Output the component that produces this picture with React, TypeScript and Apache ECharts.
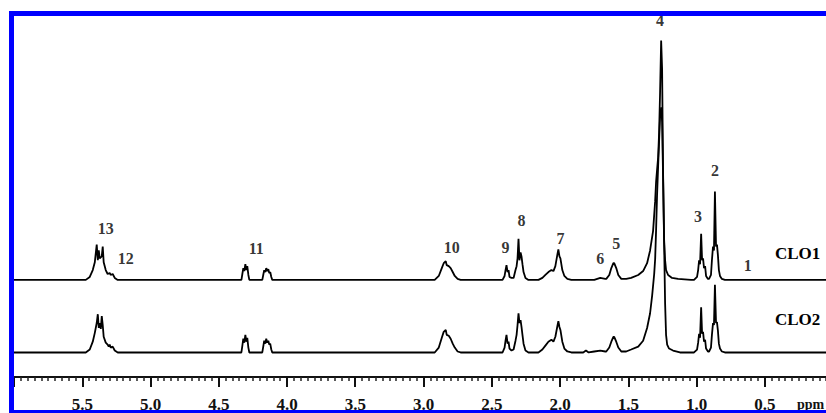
import React, { useEffect, useRef } from "react";
import * as echarts from "echarts";

// chemical shift (ppm) / intensity pairs
const clo1Points: number[][] = [
  [6.0, 0], [5.474, 0], [5.445, 3], [5.423, 10], [5.408, 18], [5.394, 36], [5.386, 20], [5.379, 30], [5.372, 22],
  [5.357, 24], [5.35, 34], [5.343, 18], [5.328, 10], [5.314, 6], [5.299, 7], [5.292, 5], [5.277, 6], [5.262, 2], [5.24, 0],
  [4.334, 0], [4.327, 6], [4.32, 12], [4.313, 9], [4.305, 16], [4.298, 10], [4.291, 14], [4.283, 5], [4.276, 0],
  [4.181, 0], [4.174, 5], [4.167, 10], [4.159, 8], [4.152, 12], [4.145, 9], [4.137, 11], [4.13, 7], [4.123, 8], [4.115, 3], [4.108, 0],
  [2.918, 0], [2.888, 4], [2.866, 12], [2.852, 17], [2.837, 19], [2.83, 15], [2.815, 14], [2.801, 12], [2.786, 8], [2.771, 4], [2.75, 1], [2.728, 0],
  [2.421, 0], [2.406, 4], [2.399, 10], [2.392, 15], [2.384, 8], [2.377, 10], [2.37, 3], [2.355, 2], [2.34, 2],
  [2.326, 10], [2.318, 14], [2.311, 22], [2.304, 42], [2.297, 20], [2.289, 28], [2.282, 24], [2.275, 16], [2.267, 8], [2.253, 2], [2.231, 0],
  [2.158, 0], [2.129, 2], [2.107, 5], [2.085, 8], [2.063, 10], [2.048, 9], [2.034, 14], [2.019, 26], [2.012, 31], [2.004, 24],
  [1.997, 22], [1.983, 10], [1.968, 4], [1.946, 1], [1.917, 0],
  [1.749, 0], [1.705, 2], [1.668, 1], [1.661, 1], [1.639, 5], [1.624, 12], [1.609, 17], [1.603, 17], [1.588, 12], [1.573, 5], [1.551, 1],
  [1.515, 1], [1.479, 2], [1.427, 5], [1.391, 9], [1.362, 17], [1.34, 30], [1.318, 50], [1.303, 80], [1.296, 100], [1.289, 112],
  [1.281, 125], [1.274, 150], [1.267, 190], [1.259, 244], [1.252, 215], [1.245, 110], [1.237, 40], [1.23, 20], [1.223, 10],
  [1.208, 5], [1.179, 2], [1.135, 1], [1.04, 0],
  [1.018, 0], [0.996, 3], [0.988, 10], [0.981, 20], [0.974, 16], [0.966, 47], [0.959, 20], [0.952, 22], [0.945, 12], [0.937, 14],
  [0.93, 4], [0.916, 1], [0.908, 1],
  [0.894, 5], [0.887, 20], [0.879, 34], [0.872, 30], [0.865, 90], [0.857, 34], [0.85, 36], [0.843, 25], [0.836, 10], [0.828, 4],
  [0.814, 1], [0.792, 0], [0, 0],
];

const clo2Points: number[][] = [
  [6.0, 0], [5.474, 0], [5.445, 3], [5.423, 11], [5.408, 20], [5.394, 30], [5.386, 39], [5.379, 25], [5.372, 30], [5.364, 24],
  [5.357, 37], [5.35, 28], [5.343, 16], [5.328, 10], [5.314, 8], [5.306, 6], [5.299, 8], [5.292, 5], [5.277, 6], [5.262, 2], [5.24, 0],
  [4.334, 0], [4.327, 7], [4.32, 14], [4.313, 10], [4.305, 18], [4.298, 11], [4.291, 15], [4.283, 5], [4.276, 0],
  [4.181, 0], [4.174, 6], [4.167, 12], [4.159, 9], [4.152, 14], [4.145, 10], [4.137, 12], [4.13, 8], [4.123, 9], [4.115, 3], [4.108, 0],
  [2.918, 0], [2.888, 5], [2.866, 15], [2.852, 21], [2.837, 23], [2.83, 18], [2.815, 17], [2.801, 14], [2.786, 9], [2.771, 5], [2.75, 1], [2.728, 0],
  [2.421, 0], [2.406, 5], [2.399, 12], [2.392, 18], [2.384, 9], [2.377, 11], [2.37, 4], [2.355, 2], [2.34, 3],
  [2.326, 12], [2.318, 18], [2.311, 28], [2.304, 40], [2.297, 30], [2.289, 33], [2.282, 26], [2.275, 18], [2.267, 9], [2.253, 2], [2.231, 0],
  [2.158, 0], [2.129, 3], [2.107, 7], [2.085, 11], [2.063, 13], [2.048, 11], [2.034, 16], [2.019, 27], [2.012, 32], [2.004, 26],
  [1.997, 23], [1.983, 11], [1.968, 4], [1.946, 1], [1.917, 0],
  [1.83, 0], [1.81, 2], [1.79, 0], [1.749, 1], [1.705, 2], [1.668, 1], [1.661, 1], [1.639, 5], [1.624, 11], [1.609, 16], [1.603, 16],
  [1.588, 11], [1.573, 5], [1.551, 1],
  [1.515, 1], [1.479, 3], [1.427, 6], [1.391, 12], [1.362, 25], [1.34, 40], [1.325, 58], [1.31, 80], [1.303, 95], [1.296, 125],
  [1.289, 160], [1.281, 190], [1.274, 215], [1.267, 240], [1.259, 250], [1.252, 235], [1.245, 180], [1.237, 110], [1.23, 50],
  [1.223, 18], [1.215, 8], [1.201, 4], [1.172, 2], [1.121, 0],
  [1.018, 0], [0.996, 3], [0.988, 10], [0.981, 19], [0.974, 15], [0.966, 46], [0.959, 19], [0.952, 21], [0.945, 11], [0.937, 13],
  [0.93, 4], [0.916, 1], [0.908, 1],
  [0.894, 5], [0.887, 18], [0.879, 30], [0.872, 28], [0.865, 69], [0.857, 30], [0.85, 31], [0.843, 22], [0.836, 9], [0.828, 4],
  [0.814, 1], [0.792, 0], [0, 0],
];

// peak assignment labels (placed relative to CLO1 trace)
const peakLabels = ["13", "12", "11", "10", "9", "8", "7", "6", "5", "4", "3", "2", "1"];
const peakLabelPpm = [5.328, 5.182, 4.225, 2.793, 2.399, 2.282, 1.997, 1.705, 1.588, 1.267, 0.989, 0.865, 0.624];
const peakLabelHeight = [52, 22, 32, 33, 33, 61, 42, 22, 37, 264, 65, 112, 15];

const traceNames = ["CLO1", "CLO2"];

export default function App() {
  const ref = useRef<HTMLDivElement>(null);

  useEffect(() => {
    if (!ref.current) return;
    const chart = echarts.init(ref.current, undefined, { renderer: "svg" });
    const serif = "'Liberation Serif', 'DejaVu Serif', serif";
    const blue = "#0000ff";

    chart.setOption({
      animation: false,
      backgroundColor: "#ffffff",
      grid: { left: 14, top: 16, bottom: 29, right: 0.6 },
      xAxis: {
        type: "value",
        inverse: true,
        min: 0,
        max: 6,
        interval: 0.5,
        axisLine: { show: true, onZero: false, lineStyle: { color: "#111", width: 2 } },
        axisTick: { show: true, inside: false, length: 10, lineStyle: { color: "#111", width: 2 } },
        minorTick: { show: true, splitNumber: 10, length: 4, lineStyle: { color: "#222", width: 1.5 } },
        splitLine: { show: false },
        axisLabel: {
          margin: 19,
          fontFamily: serif,
          fontSize: 17,
          fontWeight: "bold",
          color: "#111",
          formatter: (v: number) => (v <= 0.01 || v >= 5.99 ? "" : v.toFixed(1)),
        },
      },
      yAxis: [
        { type: "value", min: -99, max: 269, show: false },
        { type: "value", min: -25, max: 343, show: false },
      ],
      series: [
        {
          name: traceNames[0],
          type: "line",
          yAxisIndex: 0,
          data: clo1Points,
          showSymbol: false,
          lineStyle: { color: "#000", width: 1.8 },
          z: 3,
        },
        {
          name: traceNames[1],
          type: "line",
          yAxisIndex: 1,
          data: clo2Points,
          showSymbol: false,
          lineStyle: { color: "#000", width: 1.8 },
          z: 2,
        },
        {
          type: "scatter",
          yAxisIndex: 0,
          symbolSize: 0,
          z: 5,
          data: peakLabels.map((t, i) => ({ name: t, value: [peakLabelPpm[i], peakLabelHeight[i]] })),
          label: {
            show: true,
            position: "inside",
            formatter: (p: any) => p.name,
            fontFamily: serif,
            fontWeight: "bold",
            fontSize: 16,
            color: "#000",
          },
        },
      ],
      graphic: [
        { type: "text", left: 775, top: 245, z: 50, style: { text: traceNames[0], font: `bold 17px ${serif}`, fill: "#000" } },
        { type: "text", left: 775, top: 311, z: 50, style: { text: traceNames[1], font: `bold 17px ${serif}`, fill: "#000" } },
        { type: "text", left: 797, top: 397, z: 40, style: { text: "ppm", font: `bold 14px ${serif}`, fill: "#111" } },
        { type: "rect", z: 100, shape: { x: 9, y: 11, width: 827, height: 5 }, style: { fill: blue } },
        { type: "rect", z: 100, shape: { x: 9, y: 11, width: 5, height: 402 }, style: { fill: blue } },
        { type: "rect", z: 100, shape: { x: 9, y: 410, width: 827, height: 3 }, style: { fill: blue } },
      ],
    });

    return () => chart.dispose();
  }, []);

  return (
    <div style={{ position: "fixed", left: 0, top: 0, width: 826, height: 413, overflow: "hidden" }}>
      <div ref={ref} style={{ width: 836, height: 413 }} />
    </div>
  );
}
